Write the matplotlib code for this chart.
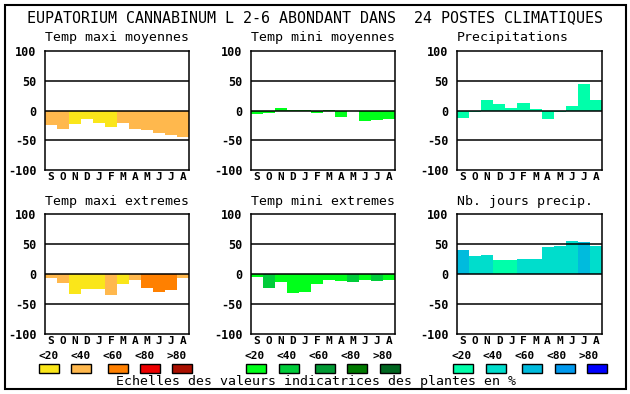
import matplotlib
matplotlib.use("Agg")
import matplotlib.pyplot as plt
from matplotlib.patches import Rectangle

W, H = 630, 394

TITLE = "EUPATORIUM CANNABINUM L 2-6 ABONDANT DANS  24 POSTES CLIMATIQUES"
MONTHS = ["S", "O", "N", "D", "J", "F", "M", "A", "M", "J", "J", "A"]
CLASS_LABELS = ["<20", "<40", "<60", "<80", ">80"]
FOOTER = "Echelles des valeurs indicatrices des plantes en %"

# palettes for the indicator classes
WARM = ["#fae61a", "#ffb84d", "#ff8000", "#ee0000", "#aa1000"]
GREEN = ["#00ff1a", "#00cc3a", "#009933", "#007a00", "#006620"]
BLUE = ["#00ffaa", "#00ddcc", "#00bbdd", "#0099ee", "#0000ff"]

# panel data: values (%) and class index per month
tmax_moy = [-25, -31, -23, -15, -21, -28, -21, -31, -33, -38, -42, -44]
tmax_moy_cls = [1, 1, 0, 0, 0, 0, 1, 1, 1, 1, 1, 1]
tmin_moy = [-5.5, -4, 4, 1.5, 1.5, -4, 1.5, -11, 0, -17, -15.5, -14]
tmin_moy_cls = [0] * 12
precip = [-12, -2, 17, 10.5, 4, 12, 2, -14, -2, 7, 44, 17]
precip_cls = [0] * 12
tmax_ext = [-7, -15.5, -34, -25, -25, -35.5, -17, -10.5, -24, -30.5, -27, -7]
tmax_ext_cls = [1, 1, 0, 0, 0, 1, 0, 1, 2, 2, 2, 1]
tmin_ext = [-5.5, -24, -14, -32, -30.5, -17, -10.5, -12, -14, -10.5, -12, -10.5]
tmin_ext_cls = [0, 1, 0, 0, 0, 0, 0, 0, 1, 0, 1, 0]
jours = [40.5, 30.5, 32, 24, 24, 25.5, 25.5, 45.5, 47, 55.5, 54, 47]
jours_cls = [2, 1, 1, 0, 0, 1, 1, 1, 1, 1, 2, 1]

PANELS = [
    ("Temp maxi moyennes", tmax_moy, tmax_moy_cls, WARM),
    ("Temp mini moyennes", tmin_moy, tmin_moy_cls, GREEN),
    ("Precipitations", precip, precip_cls, BLUE),
    ("Temp maxi extremes", tmax_ext, tmax_ext_cls, WARM),
    ("Temp mini extremes", tmin_ext, tmin_ext_cls, GREEN),
    ("Nb. jours precip.", jours, jours_cls, BLUE),
]

# pixel layout
COL_X = [(45, 189), (251, 395), (457, 602)]
ROW_Y = [(51, 170), (214, 334)]
LABEL_X = [[49, 81, 113, 145, 177], [255, 287, 319, 351, 383], [462, 493, 525, 557, 589]]
SWATCH_X = [[39, 71, 108, 140, 172], [246, 279, 315, 347, 380], [453, 486, 522, 555, 587]]

MONO = "DejaVu Sans Mono"
plt.rcParams["font.family"] = MONO


def fx(x):
    return x / W


def fy(y):
    return 1 - y / H


fig = plt.figure(figsize=(W / 100, H / 100), dpi=100)
fig.patch.set_facecolor("white")

fig.add_artist(Rectangle((fx(5), fy(389)), fx(621), 384 / H, transform=fig.transFigure,
                         fill=False, edgecolor="black", linewidth=1.5))
fig.text(fx(315), fy(18), TITLE, ha="center", va="center", fontsize=10.8)

for i, (name, vals, cls, pal) in enumerate(PANELS):
    r, c = divmod(i, 3)
    x0, x1 = COL_X[c]
    y0, y1 = ROW_Y[r]
    ax = fig.add_axes([fx(x0), fy(y1), (x1 - x0) / W, (y1 - y0) / H])
    ax.bar(range(12), vals, width=1.0, color=[pal[k] for k in cls], linewidth=0, zorder=1)
    for v in (-50, 0, 50):
        ax.axhline(v, color="black", linewidth=1.1, zorder=2)
    ax.set_xlim(-0.5, 11.5)
    ax.set_ylim(-100, 100)
    ax.set_yticks([100, 50, 0, -50, -100])
    ax.set_yticklabels(["100", "50", "0", "-50", "-100"], fontsize=8.5, fontweight="bold")
    ax.set_xticks(range(12))
    ax.set_xticklabels(MONTHS, fontsize=8, fontweight="bold")
    ax.tick_params(axis="x", length=0, pad=1.5)
    ax.tick_params(axis="y", length=0, pad=6)
    for s in ax.spines.values():
        s.set_linewidth(1.1)
    fig.text(fx(x0), fy(y0 - 13), name, ha="left", va="center", fontsize=9.5)

    if r == 1:
        for lx, lab in zip(LABEL_X[c], CLASS_LABELS):
            fig.text(fx(lx), fy(356), lab, ha="center", va="center",
                     fontsize=8, fontweight="bold")
        for sx, col in zip(SWATCH_X[c], pal):
            fig.add_artist(Rectangle((fx(sx), fy(373)), 20 / W, 9 / H,
                                     transform=fig.transFigure, facecolor=col,
                                     edgecolor="black", linewidth=1.0))

fig.text(fx(316), fy(382), FOOTER, ha="center", va="center", fontsize=9.5)

fig.savefig("out.png", dpi=100)
